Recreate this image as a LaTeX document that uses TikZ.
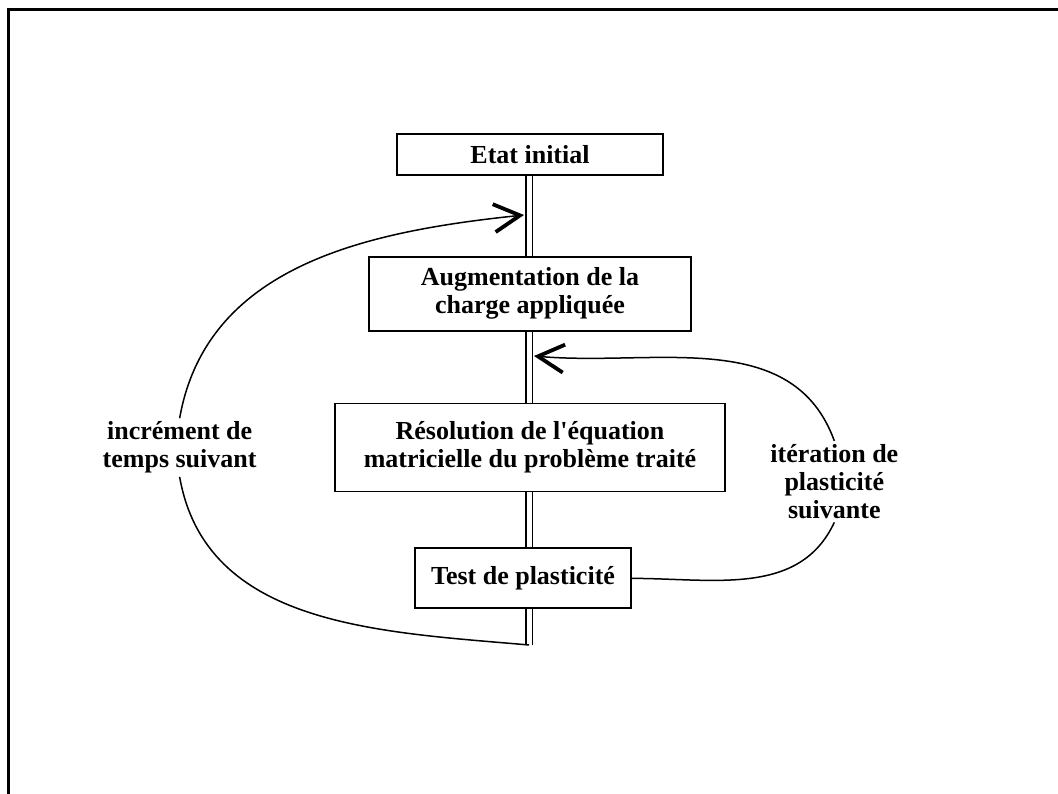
\documentclass[tikz,border=0pt]{standalone}
\usepackage{fontspec}
\setmainfont{Liberation Serif}
\usetikzlibrary{arrows.meta,positioning}

\begin{document}
\begin{tikzpicture}[
  x=1pt, y=1pt,
  node distance=70pt and 40pt,
  box/.style={draw, line width=1.8pt, align=center, font=\bfseries\fontsize{26}{28}\selectfont, fill=white},
  lbl/.style={align=center, font=\bfseries\fontsize{26}{28}\selectfont},
  spine/.style={double, double distance=5pt, line width=1.3pt},
  feed/.style={line width=1.5pt},
  barb/.style={-{Straight Barb[length=26pt,width=28pt,line width=3.8pt]}}
]
\useasboundingbox (0,0) rectangle (1058,794);
\draw[line width=3pt] (8,-20) |- (1080,784);
\node[box, minimum width=266pt, minimum height=41pt] (init) at (530,639.5) {Etat initial};
\node[box, minimum width=322pt, minimum height=74pt, below=80pt of init] (aug) {Augmentation de la\\charge appliquée};
\node[box, minimum width=390pt, minimum height=88pt, below=71pt of aug] (res) {Résolution de l\textquotesingle équation\\matricielle du problème traité};
\node[box, minimum width=216pt, minimum height=60pt, below=55pt of res, xshift=-7pt] (test) {Test de plasticité};
\node[lbl, left=74pt of res] (time) {incrément de\\temps suivant};
\node[lbl, right=41pt of res, yshift=-34pt] (iter) {itération de\\plasticité\\suivante};
\coordinate (axis) at (529,0);
\coordinate (foot) at (529,149);
\coordinate (tipL) at (524,579);
\coordinate (tipR) at (534,438);
\draw[spine] (init.south -| axis) -- (aug.north -| axis);
\draw[spine] (aug.south -| axis) -- (res.north -| axis);
\draw[spine] (res.south -| axis) -- (test.north -| axis);
\draw[spine] (test.south -| axis) -- (foot);
\draw[feed] (foot) to[out=175, in=-80] (time.south);
\draw[feed, barb] (time.north) to[out=80, in=186] (tipL);
\draw[feed] (test.east) to[out=0, in=-115] (iter.south);
\draw[feed, barb] (iter.north) to[out=110, in=-5] (tipR);
\end{tikzpicture}
\end{document}
